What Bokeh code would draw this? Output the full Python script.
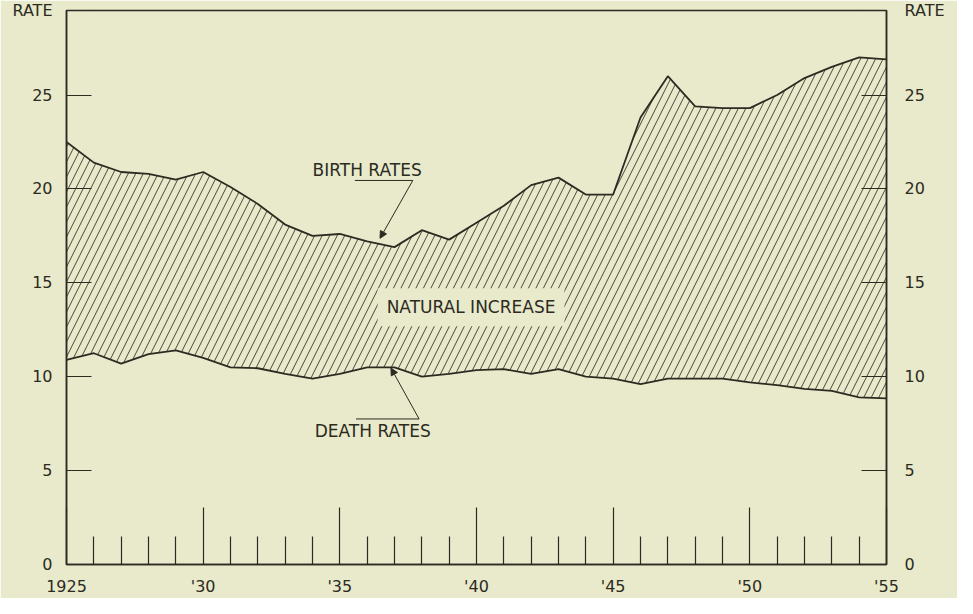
from bokeh.plotting import figure
from bokeh.models import (LinearAxis, FixedTicker, Range1d, Label, Arrow,
                          NormalHead, ColumnDataSource)
from bokeh.embed import file_html
from bokeh.resources import INLINE

# ---- data -------------------------------------------------------------
years = list(range(1925, 1956))
birth_rates = [22.5, 21.4, 20.9, 20.8, 20.5, 20.9, 20.1, 19.2, 18.1, 17.5,
               17.6, 17.2, 16.9, 17.8, 17.3, 18.2, 19.1, 20.2, 20.6, 19.7,
               19.7, 23.8, 26.0, 24.4, 24.3, 24.3, 25.0, 25.9, 26.5, 27.0, 26.9]
death_rates = [10.9, 11.25, 10.7, 11.2, 11.4, 11.0, 10.5, 10.45, 10.15, 9.9,
               10.15, 10.5, 10.5, 10.0, 10.15, 10.35, 10.4, 10.15, 10.4, 10.0,
               9.9, 9.6, 9.9, 9.9, 9.9, 9.7, 9.55, 9.35, 9.25, 8.9, 8.85]
x_major = [1925, 1930, 1935, 1940, 1945, 1950, 1955]
x_labels = ["1925", "'30", "'35", "'40", "'45", "'50", "'55"]
x_minor = [y for y in years if y not in x_major]
y_ticks = [0, 5, 10, 15, 20, 25]
y_top = 29.5
y_title = "RATE"

BG = "#e9e9cb"
INK = "#2b2b22"
FONT = "DejaVu Sans"

src = ColumnDataSource(dict(year=years, birth=birth_rates, death=death_rates))

p = figure(width=957, height=598, x_range=Range1d(1925, 1955),
           y_range=Range1d(0, y_top), output_backend="svg",
           toolbar_location=None, min_border_left=66, min_border_right=71,
           min_border_top=10, min_border_bottom=32)
p.background_fill_color = BG
p.border_fill_color = BG
p.outline_line_color = INK
p.outline_line_width = 1.5
p.grid.visible = False

# x axis
xa = p.xaxis[0]
xa.ticker = FixedTicker(ticks=x_major, minor_ticks=x_minor)
xa.major_label_overrides = {k: v for k, v in zip(x_major, x_labels)}
xa.major_tick_in = 57
xa.major_tick_out = 0
xa.minor_tick_in = 28
xa.minor_tick_out = 0
xa.major_tick_line_color = INK
xa.minor_tick_line_color = INK
xa.major_tick_line_width = 1.2
xa.minor_tick_line_width = 1.2
xa.axis_line_color = INK
xa.axis_line_width = 1.5
xa.major_label_standoff = 12
xa.major_label_text_font = FONT
xa.major_label_text_font_size = "16px"
xa.major_label_text_color = INK

# y axes (the "RATE" heading is the label of a tick on the top frame edge)
def style_y(ax, standoff):
    ax.ticker = FixedTicker(ticks=y_ticks + [y_top])
    ax.major_label_overrides = {y_top: y_title}
    ax.major_tick_in = 25
    ax.major_tick_out = 0
    ax.minor_tick_line_color = None
    ax.major_tick_line_color = INK
    ax.major_tick_line_width = 1.2
    ax.axis_line_color = INK
    ax.axis_line_width = 1.5
    ax.major_label_standoff = standoff
    ax.major_label_text_font = FONT
    ax.major_label_text_font_size = "16px"
    ax.major_label_text_color = INK

style_y(p.yaxis[0], 14)
ra = LinearAxis()
style_y(ra, 18)
p.add_layout(ra, "right")

# data marks
p.varea(x="year", y1="death", y2="birth", source=src, fill_alpha=0,
        hatch_pattern="/", hatch_color=INK, hatch_scale=15, hatch_weight=1,
        hatch_alpha=0.85)
p.line(x="year", y="birth", source=src, line_color=INK, line_width=1.8)
p.line(x="year", y="death", source=src, line_color=INK, line_width=1.8)

# text annotations
def lab(x, y, t, align="left", **kw):
    p.add_layout(Label(x=x, y=y, text=t, text_align=align,
                       text_baseline="middle", text_font=FONT,
                       text_font_size="17px", text_color=INK, **kw))

lab(1934.0, 21.0, "BIRTH RATES")
lab(1934.08, 7.12, "DEATH RATES")
lab(1939.8, 13.7, "NATURAL INCREASE", align="center",
    background_fill_color=BG, background_fill_alpha=1, padding=9)

# leader lines
head = dict(size=7, fill_color=INK, line_color=INK)
p.add_layout(Arrow(end=None, x_start=1935.55, y_start=20.45, x_end=1937.67,
                   y_end=20.45, line_color=INK, line_width=1))
p.add_layout(Arrow(end=NormalHead(**head), x_start=1937.67, y_start=20.45,
                   x_end=1936.47, y_end=17.37, line_color=INK, line_width=1))
p.add_layout(Arrow(end=None, x_start=1935.59, y_start=7.75, x_end=1937.9,
                   y_end=7.75, line_color=INK, line_width=1))
p.add_layout(Arrow(end=NormalHead(**head), x_start=1937.9, y_start=7.75,
                   x_end=1936.87, y_end=10.46, line_color=INK, line_width=1))

open("out.html", "w").write(file_html(p, INLINE))
